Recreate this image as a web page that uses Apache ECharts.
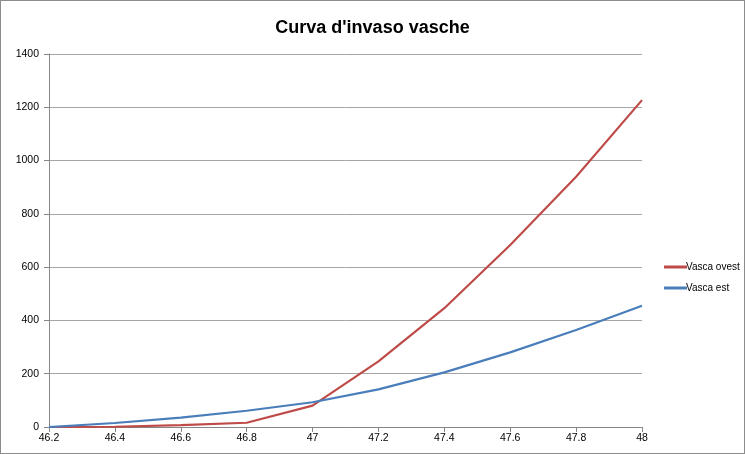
<!DOCTYPE html>
<html><head><meta charset="utf-8">
<script src="https://cdn.jsdelivr.net/npm/echarts@6/dist/echarts.min.js"></script>
<style>html,body{margin:0;padding:0;background:#fff}#c{width:745px;height:454px;box-sizing:border-box;border:1px solid #8c8c8c}</style>
</head><body><div id="c"></div>
<script>
const categories = ['46.2','46.4','46.6','46.8','47','47.2','47.4','47.6','47.8','48'];
const vascaOvest = [0, 1, 7, 16, 80, 246, 446, 683, 939, 1227];
const vascaEst = [0, 15, 35, 61, 93, 141, 205, 280, 364, 455];
const yTicks = {min: 0, max: 1400, interval: 200};
const FONT = '"Liberation Sans Narrow", "Liberation Sans", sans-serif';
const chart = echarts.init(document.getElementById('c'));
chart.setOption({
  animation: false,
  title: {text: "Curva d'invaso vasche", left: 'center', top: 13, textStyle: {fontFamily: FONT, fontSize: 18, fontWeight: 'bold', color: '#000'}},
  grid: {left: 48, right: 102, top: 53, bottom: 26, containLabel: false},
  legend: {
    orient: 'vertical', left: 658, top: 256, itemWidth: 23, itemHeight: 3, itemGap: 11,
    icon: 'rect',
    textStyle: {fontFamily: FONT, fontSize: 10, color: '#000', padding: [0,0,0,-6]},
    data: ['Vasca ovest', 'Vasca est']
  },
  xAxis: {
    type: 'category', data: categories, boundaryGap: false,
    axisLine: {lineStyle: {color: '#868686'}},
    axisTick: {show: true, length: 5, lineStyle: {color: '#868686'}},
    axisLabel: {fontFamily: FONT, fontSize: 10.5, color: '#000', margin: 6}
  },
  yAxis: {
    type: 'value', min: yTicks.min, max: yTicks.max, interval: yTicks.interval,
    axisLine: {show: true, lineStyle: {color: '#868686'}},
    axisTick: {show: true, length: 5, lineStyle: {color: '#868686'}},
    axisLabel: {fontFamily: FONT, fontSize: 10.5, color: '#000', margin: 10, formatter: v => String(v)},
    splitLine: {lineStyle: {color: '#a6a6a6'}}
  },
  series: [
    {name: 'Vasca ovest', type: 'line', data: vascaOvest, symbol: 'none', lineStyle: {color: '#be4b48', width: 2.2}, itemStyle: {color: '#be4b48'}},
    {name: 'Vasca est', type: 'line', data: vascaEst, symbol: 'none', lineStyle: {color: '#4a7ebb', width: 2.2}, itemStyle: {color: '#4a7ebb'}}
  ]
});
</script></body></html>
